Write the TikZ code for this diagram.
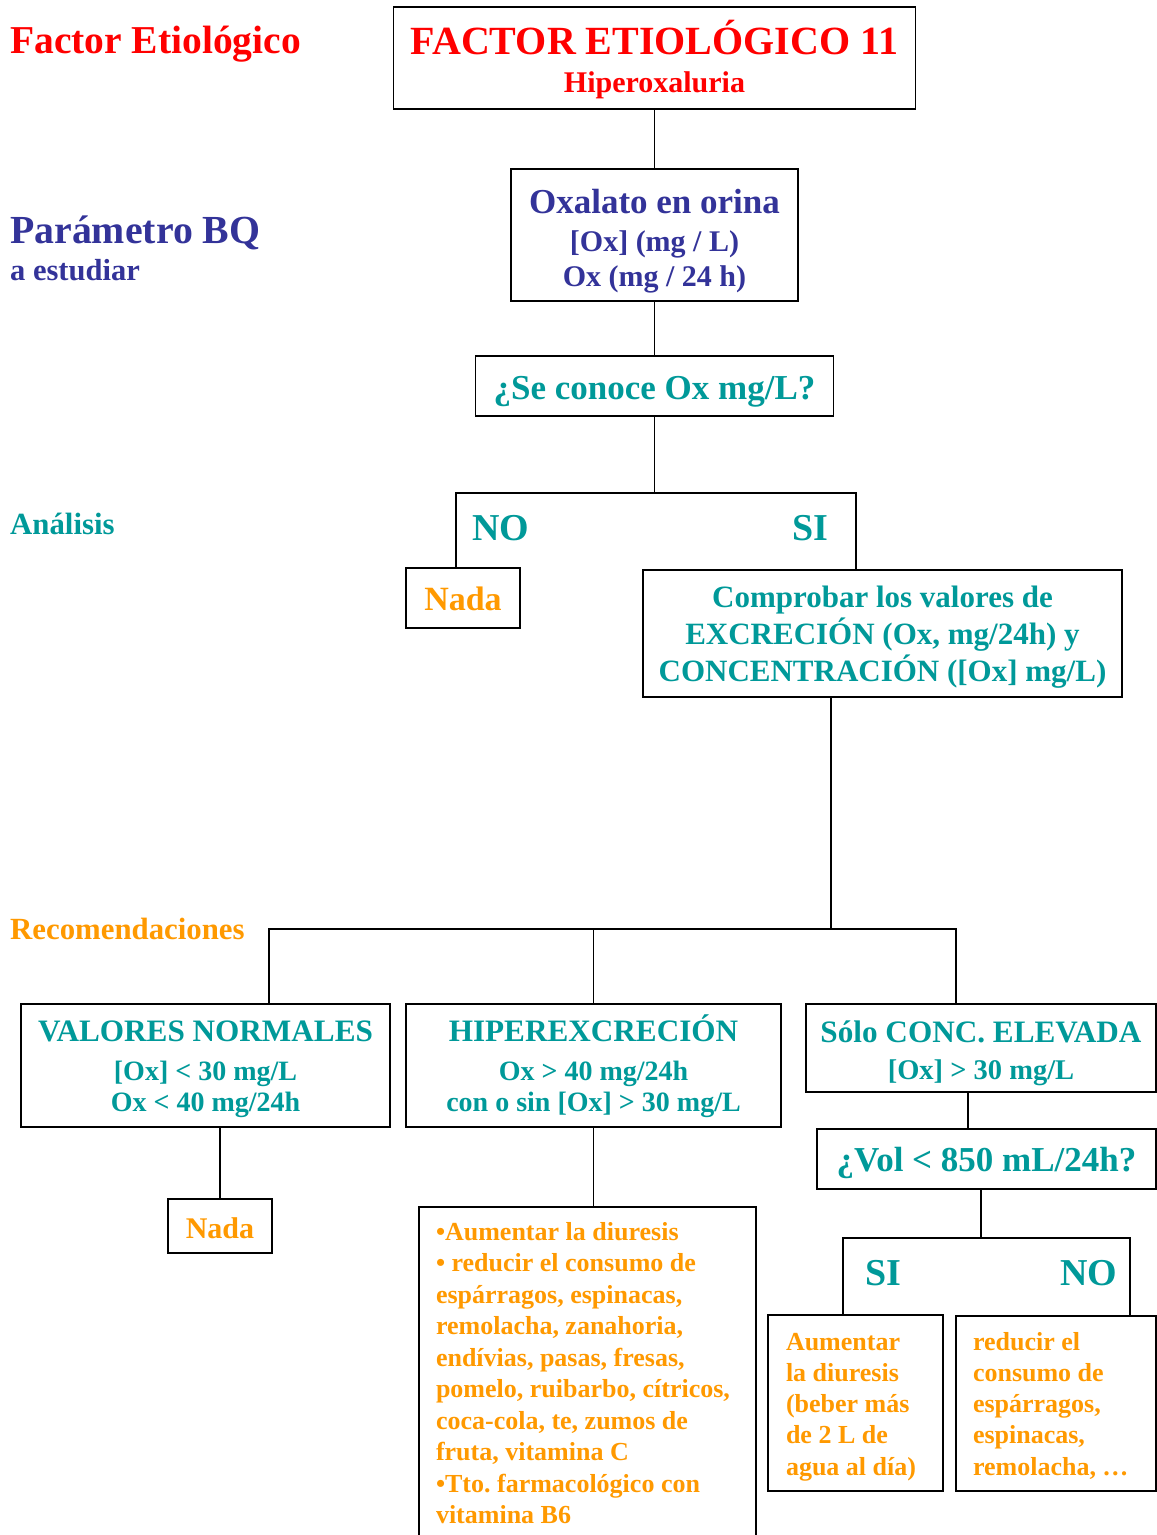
\documentclass[tikz,border=0pt]{standalone}
\usepackage{fontspec}
\setmainfont{Liberation Serif}
\usetikzlibrary{positioning}
\definecolor{cRed}{RGB}{255,0,0}
\definecolor{cBlue}{RGB}{51,51,153}
\definecolor{cTeal}{RGB}{0,153,153}
\definecolor{cOrange}{RGB}{255,153,0}
\newcommand{\setfs}[2]{\fontsize{#1}{#2}\selectfont}
\frenchspacing

\begin{document}
\begin{tikzpicture}[
    x=1pt, y=-1pt,
    font=\bfseries,
    block/.style={
        draw=black,
        line width=1.6pt,
        align=flush center,
        inner sep=0pt
    },
    listbox/.style={
        draw=black,
        line width=1.6pt,
        align=flush left,
        inner xsep=17pt,
        inner ysep=0pt,
        text height=0pt,
        text=cOrange,
        font=\bfseries\setfs{26}{31.5}
    },
    side/.style={anchor=base west, inner sep=0pt},
    branch/.style={anchor=base west, inner sep=0pt, text=cTeal, font=\bfseries\setfs{38}{40}},
    line/.style={line width=1.6pt}
]
\useasboundingbox (0,0) rectangle (1157,1535);
\clip (0,0) rectangle (1157,1535);

% left column
\node[side, text=cRed, font=\bfseries\setfs{39.5}{40}] (lblFactor) at (10,53) {Factor Etiológico};
\node[side, text=cBlue, font=\bfseries\setfs{39.8}{40}] (lblParam) at (10,243) {Parámetro BQ};
\node[side, text=cBlue, font=\bfseries\setfs{30.5}{30}] (lblStudy) at (10,280) {a estudiar};
\node[side, text=cTeal, font=\bfseries\setfs{30.8}{30}] (lblAnal) at (10,534) {Análisis};
\node[side, text=cOrange, font=\bfseries\setfs{30.8}{30}] (lblRec) at (10,939) {Recomendaciones};

% main column
\node[block, text=cRed, minimum width=522, minimum height=102, text width=522, text height=0pt, text depth=8pt,
      font=\bfseries\setfs{30}{38}] (title) at (654.5,58) {
    {\setfs{40}{38}FACTOR ETIOLÓGICO 11}\\Hiperoxaluria
};
\node[block, text=cBlue, minimum width=287, minimum height=132, text width=287, text height=0pt, text depth=44pt,
      font=\bfseries\setfs{30}{35}] (oxal) at (654.5,235) {
    {\setfs{35}{35}Oxalato en orina}\\[3pt]{[Ox] (mg / L)}\\Ox (mg / 24 h)
};
\node[block, text=cTeal, minimum width=358, minimum height=60, text height=26pt, text depth=0pt,
      font=\bfseries\setfs{35}{40}] (conoce) at (654.5,386) {¿Se conoce Ox mg/L?};

\node[branch] (noA) at (472,540) {NO};
\node[branch] (siA) at (792,540) {SI};

\node[block, text=cOrange, minimum width=114, minimum height=60, text height=24pt, text depth=0pt,
      font=\bfseries\setfs{34}{40}] (nadaA) at (463,598) {Nada};
\node[block, text=cTeal, minimum width=479, minimum height=127, text width=479, text height=0pt, text depth=53pt,
      font=\bfseries\setfs{31}{37}] (comp) at (882.5,633.5) {
    Comprobar los valores de\\EXCRECIÓN (Ox, mg/24h) y\\CONCENTRACIÓN ([Ox] mg/L)
};

% results row
\node[block, text=cTeal, minimum width=369, minimum height=123, text width=369, text height=0pt, text depth=49pt,
      font=\bfseries\setfs{28}{31}] (normal) at (205.5,1065.5) {
    {\setfs{31.2}{31}VALORES NORMALES}\\[8pt]{[Ox] < 30 mg/L}\\Ox < 40 mg/24h
};
\node[block, text=cTeal, minimum width=375, minimum height=123, text width=375, text height=0pt, text depth=49pt,
      font=\bfseries\setfs{28}{31}] (hiper) at (593.5,1065.5) {
    {\setfs{31.2}{31}HIPEREXCRECIÓN}\\[8pt]Ox > 40 mg/24h\\con o sin [Ox] > 30 mg/L
};
\node[block, text=cTeal, minimum width=350, minimum height=88, text width=350, text height=0pt, text depth=12pt,
      font=\bfseries\setfs{28.5}{37}] (solo) at (981,1048) {
    {\setfs{31.2}{37}Sólo CONC. ELEVADA}\\{[Ox] > 30 mg/L}
};

\node[block, text=cOrange, minimum width=104, minimum height=54, text height=24pt, text depth=0pt,
      font=\bfseries\setfs{30}{36}] (nadaB) at (220,1226) {Nada};
\node[listbox, text width=303, minimum height=337, text depth=271pt] (dietList) at (587.5,1375.5) {
    •Aumentar la diuresis\\• reducir el consumo de\\espárragos, espinacas,\\remolacha, zanahoria,\\endívias, pasas, fresas,\\pomelo, ruibarbo, cítricos,\\coca-cola, te, zumos de\\fruta, vitamina C\\•Tto. farmacológico con\\vitamina B6
};
\node[block, text=cTeal, minimum width=339, minimum height=60, text height=24pt, text depth=0pt,
      font=\bfseries\setfs{35}{40}] (vol) at (986.5,1159) {¿Vol < 850 mL/24h?};

\node[branch] (siB) at (865,1285) {SI};
\node[branch] (noB) at (1060,1285) {NO};

\node[listbox, inner xsep=18pt, text width=139, minimum height=176, text depth=106pt,
      font=\bfseries\setfs{26}{31.3}] (aum) at (855.5,1403) {
    Aumentar\\la diuresis\\(beber más\\de 2 L de\\agua al día)
};
\node[listbox, text width=166, minimum height=175, text depth=107pt,
      font=\bfseries\setfs{26}{31.3}] (red) at (1056,1403.5) {
    reducir el\\consumo de\\espárragos,\\espinacas,\\remolacha, …
};

% junctions
\coordinate (jAnal) at (654.5,493);
\coordinate (jRec) at (831,929);
\coordinate (jVol) at (981,1238);

\draw[line] (title) -- (oxal);
\draw[line] (oxal) -- (conoce);
\draw[line] (conoce) -- (jAnal);
\draw[line] ([xshift=-7]nadaA.north) |- (jAnal) -| ([xshift=-26.5]comp.north);
\draw[line] ([xshift=-51.5]comp.south) -- (jRec);
\draw[line] ([xshift=63.5]normal.north) |- (jRec) -| ([xshift=-25]solo.north);
\draw[line] (hiper.north) -- (hiper.north |- jRec);
\draw[line] (nadaB.north) -- (nadaB.north |- normal.south);
\draw[line] (hiper.south) -- (hiper.south |- dietList.north);
\draw[line] ([xshift=-13]solo.south) -- ([xshift=-13]solo.south |- vol.north);
\draw[line] ([xshift=-5.5]vol.south) -- (jVol);
\draw[line] ([xshift=-12.5]aum.north) |- (jVol) -| ([xshift=74]red.north);

\end{tikzpicture}
\end{document}
